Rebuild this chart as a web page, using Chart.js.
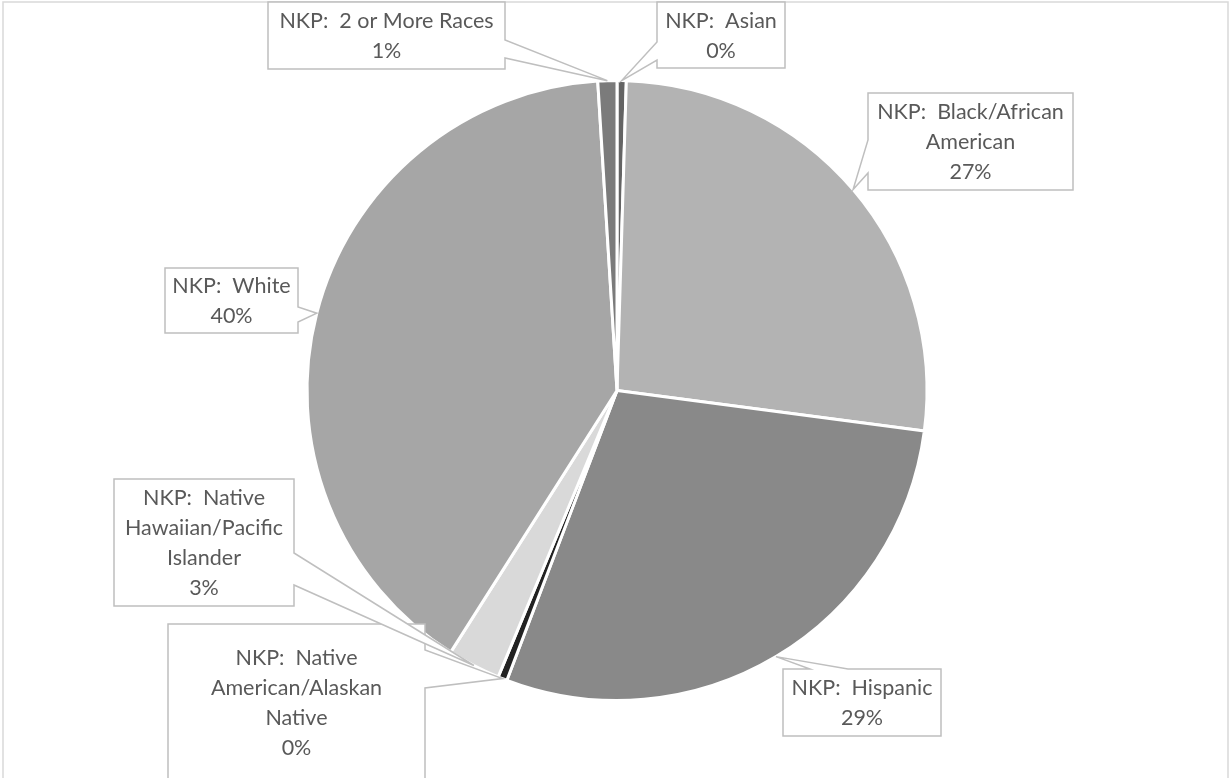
<!DOCTYPE html>
<html><head><meta charset="utf-8">
<script src="https://cdn.jsdelivr.net/npm/chart.js@4.4.0/dist/chart.umd.min.js"></script>
<style>html,body{margin:0;padding:0;background:#fff;overflow:hidden}#wrap{width:1230px;height:778px;position:relative}</style>
</head><body><div id="wrap"><canvas id="c" width="1230" height="778"></canvas></div>
<script>
// ---- data ----
const categories = ["Asian", "Black/African American", "Hispanic", "Native American/Alaskan Native", "Native Hawaiian/Pacific Islander", "White", "2 or More Races"];
const values = [0.48, 26.6, 28.7, 0.48, 2.75, 40.0, 0.99];
const labelPrefix = "NKP:  ";
// wrapped label lines (text only)
const labelLines = [
  ["NKP:  Asian"],
  ["NKP:  Black/African", "American"],
  ["NKP:  Hispanic"],
  ["NKP:  Native", "American/Alaskan", "Native"],
  ["NKP:  Native", "Hawaiian/Pacific", "Islander"],
  ["NKP:  White"],
  ["NKP:  2 or More Races"]
];
const sliceColors = ["#646464", "#b3b3b3", "#898989", "#222222", "#d9d9d9", "#a6a6a6", "#7b7b7b"];

// ---- callout layout (boxes, pointer base on one side) ----
const callouts = [
  {x:657, y:2,   w:128, h:66,  side:'left',  a:42,  b:60},
  {x:868, y:93,  w:205, h:97,  side:'left',  a:140, b:173},
  {x:783, y:669, w:158, h:67,  side:'top',   a:810, b:848},
  {x:168, y:624, w:257, h:156, side:'right', a:650, b:688},
  {x:114, y:479, w:180, h:127, side:'right', a:553, b:585},
  {x:165, y:268, w:133, h:65,  side:'right', a:307, b:322},
  {x:268, y:2,   w:237, h:67,  side:'right', a:40,  b:58}
];

const total = values.reduce((s, v) => s + v, 0);

const framePlugin = {
  id: 'frame',
  beforeDraw(chart) {
    const ctx = chart.ctx;
    ctx.save();
    ctx.fillStyle = '#fff';
    ctx.fillRect(0, 0, chart.width, chart.height);
    ctx.strokeStyle = '#d9d9d9';
    ctx.lineWidth = 1.5;
    ctx.strokeRect(3, 2, 1225, 800);
    ctx.restore();
  }
};

const calloutPlugin = {
  id: 'callouts',
  afterDatasetsDraw(chart) {
    const ctx = chart.ctx;
    const meta = chart.getDatasetMeta(0);
    ctx.save();
    meta.data.forEach((arc, i) => {
      const p = arc.getProps(['x', 'y', 'startAngle', 'endAngle', 'outerRadius'], true);
      const mid = (p.startAngle + p.endAngle) / 2;
      const tx = p.x + Math.cos(mid) * p.outerRadius;
      const ty = p.y + Math.sin(mid) * p.outerRadius;
      const c = callouts[i];
      const x0 = c.x, y0 = c.y, x1 = c.x + c.w, y1 = c.y + c.h;
      ctx.beginPath();
      ctx.moveTo(x0, y0);
      if (c.side === 'top') { ctx.lineTo(c.a, y0); ctx.lineTo(tx, ty); ctx.lineTo(c.b, y0); }
      ctx.lineTo(x1, y0);
      if (c.side === 'right') { ctx.lineTo(x1, c.a); ctx.lineTo(tx, ty); ctx.lineTo(x1, c.b); }
      ctx.lineTo(x1, y1);
      ctx.lineTo(x0, y1);
      if (c.side === 'left') { ctx.lineTo(x0, c.b); ctx.lineTo(tx, ty); ctx.lineTo(x0, c.a); }
      ctx.closePath();
      ctx.fillStyle = '#ffffff';
      ctx.fill();
      ctx.strokeStyle = '#bfbfbf';
      ctx.lineWidth = 1.5;
      ctx.lineJoin = 'miter';
      ctx.stroke();

      const lines = labelLines[i].concat([Math.round(values[i] / total * 100) + '%']);
      const lh = 30;
      ctx.fillStyle = '#595959';
      ctx.font = '21.5px Lato';
      ctx.textAlign = 'center';
      ctx.textBaseline = 'middle';
      const cx = (x0 + x1) / 2;
      const cy = (y0 + y1) / 2 + 1;
      const startY = cy - (lines.length - 1) * lh / 2;
      lines.forEach((t, k) => ctx.fillText(t, cx, startY + k * lh));
    });
    ctx.restore();
  }
};

new Chart(document.getElementById('c'), {
  type: 'pie',
  data: {
    labels: categories.map(c => labelPrefix + c),
    datasets: [{
      data: values,
      backgroundColor: sliceColors,
      borderColor: '#ffffff',
      borderWidth: 3
    }]
  },
  options: {
    responsive: false,
    animation: false,
    devicePixelRatio: 1,
    layout: { padding: { top: 79, bottom: 76, left: 100, right: 96 } },
    plugins: { legend: { display: false }, tooltip: { enabled: false } }
  },
  plugins: [framePlugin, calloutPlugin]
});
</script>
</body></html>
